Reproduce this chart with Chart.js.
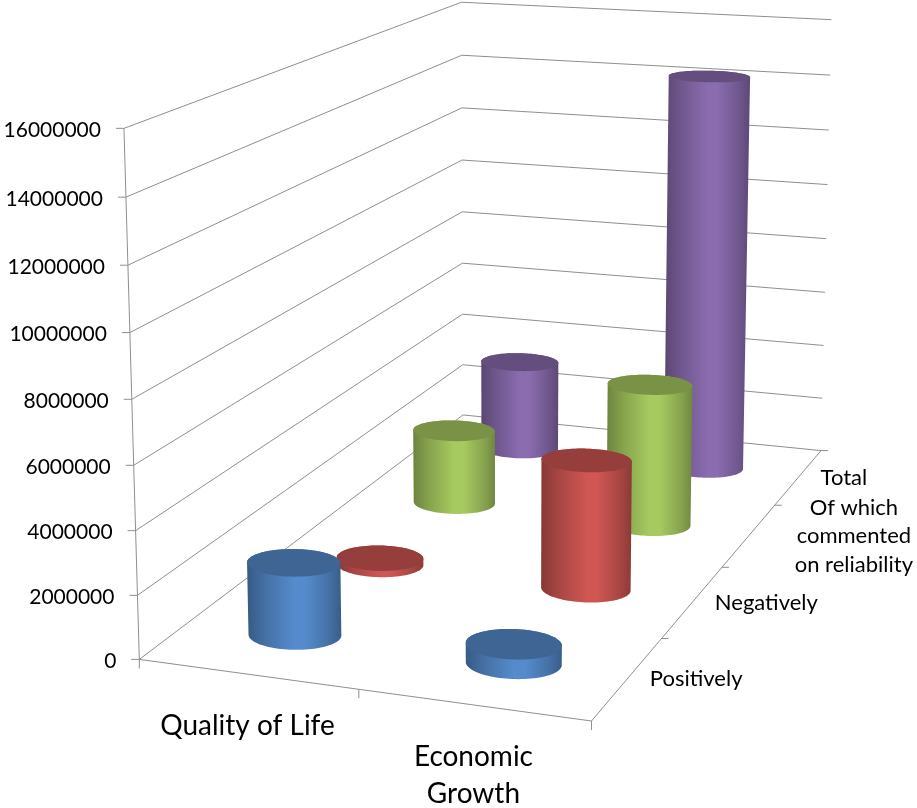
<!DOCTYPE html>
<html>
<head>
<meta charset="utf-8">
<script src="https://cdn.jsdelivr.net/npm/chart.js@4.4.1/dist/chart.umd.min.js"></script>
<style>
  html, body { margin: 0; padding: 0; background: #ffffff; }
  #wrap { width: 917px; height: 808px; position: relative; }
</style>
</head>
<body>
<div id="wrap"><canvas id="chart"></canvas></div>
<script>
// ---- data ----
const categories = ['Quality of Life', ['Economic', 'Growth']];
const seriesNames = ['Positively', 'Negatively', ['Of which', 'commented', 'on reliability'], 'Total'];
const positively = [2300000, 600000];
const negatively = [210000, 4250000];
const commentedOnReliability = [2600000, 4900000];
const total = [3300000, 14300000];
const valueTicks = [0, 2000000, 4000000, 6000000, 8000000, 10000000, 12000000, 14000000, 16000000];

// ---- style ----
const seriesColors = ['#4F81BD', '#C0504D', '#9BBB59', '#8064A2'];
const lineColor = '#8e8e8e';
const FONT = 'Lato, "Open Sans", sans-serif';

// Screen placement of the 3D plot box: world (across, up, into) -> canvas px.
// across = category direction, up = value direction, into = series depth.
const boxAnchors = [
  [[0, 0, 0], [140, 659]],
  [[1, 0, 0], [590, 722]],
  [[1, 0, 1], [823, 451]],
  [[0, 0, 1], [462, 415]],
  [[0, 1, 0], [124, 127]],
  [[0, 1, 1], [462, 2]],
  [[1, 1, 1], [832, 20]],
  [[0, 0.5, 0], [132, 401]],
  [[0, 0.5, 1], [462, 212]],
  [[1, 0.5, 1], [824, 239]],
  [[1, 0, 0.25], [662, 638]],
  [[1, 0, 0.5], [722, 567]],
  [[1, 0, 0.75], [775, 504]]
];
const RADIUS_ACROSS = 0.102;  // cylinder radius along the category direction
const RADIUS_INTO = 0.045;    // cylinder radius along the series direction

function solveLinear(A, b) {
  const n = b.length;
  const M = A.map((row, i) => row.concat([b[i]]));
  for (let c = 0; c < n; c++) {
    let piv = c;
    for (let r = c + 1; r < n; r++) if (Math.abs(M[r][c]) > Math.abs(M[piv][c])) piv = r;
    [M[c], M[piv]] = [M[piv], M[c]];
    for (let r = c + 1; r < n; r++) {
      const f = M[r][c] / M[c][c];
      for (let k = c; k <= n; k++) M[r][k] -= f * M[c][k];
    }
  }
  const x = new Array(n).fill(0);
  for (let r = n - 1; r >= 0; r--) {
    let s = M[r][n];
    for (let k = r + 1; k < n; k++) s -= M[r][k] * x[k];
    x[r] = s / M[r][r];
  }
  return x;
}

// Least-squares perspective camera through the box anchors.
function makeProjection(anchors) {
  const S = 1000;
  const N = Array.from({ length: 11 }, () => new Array(11).fill(0));
  const v = new Array(11).fill(0);
  const add = (row, rhs) => {
    for (let i = 0; i < 11; i++) {
      v[i] += row[i] * rhs;
      for (let j = 0; j < 11; j++) N[i][j] += row[i] * row[j];
    }
  };
  anchors.forEach(([[X, Y, Z], [px, py]]) => {
    const x = px / S, y = py / S;
    add([X, Y, Z, 1, 0, 0, 0, 0, -x * X, -x * Y, -x * Z], x);
    add([0, 0, 0, 0, X, Y, Z, 1, -y * X, -y * Y, -y * Z], y);
  });
  const p = solveLinear(N, v);
  return (a, h, d) => {
    const den = p[8] * a + p[9] * h + p[10] * d + 1;
    return {
      x: S * (p[0] * a + p[1] * h + p[2] * d + p[3]) / den,
      y: S * (p[4] * a + p[5] * h + p[6] * d + p[7]) / den,
      depth: den
    };
  };
}

function convexHull(pts) {
  const P = pts.slice().sort((a, b) => a.x - b.x || a.y - b.y);
  const cross = (o, a, b) => (a.x - o.x) * (b.y - o.y) - (a.y - o.y) * (b.x - o.x);
  const lower = [], upper = [];
  for (const p of P) {
    while (lower.length >= 2 && cross(lower[lower.length - 2], lower[lower.length - 1], p) <= 0) lower.pop();
    lower.push(p);
  }
  for (let i = P.length - 1; i >= 0; i--) {
    const p = P[i];
    while (upper.length >= 2 && cross(upper[upper.length - 2], upper[upper.length - 1], p) <= 0) upper.pop();
    upper.push(p);
  }
  upper.pop(); lower.pop();
  return lower.concat(upper);
}

function shade(hex, f) {
  const n = parseInt(hex.slice(1), 16);
  const c = [(n >> 16) & 255, (n >> 8) & 255, n & 255].map(v => Math.max(0, Math.min(255, Math.round(v * f))));
  return `rgb(${c[0]},${c[1]},${c[2]})`;
}

function polygon(ctx, pts) {
  ctx.beginPath();
  pts.forEach((p, i) => (i ? ctx.lineTo(p.x, p.y) : ctx.moveTo(p.x, p.y)));
  ctx.closePath();
}

function line(ctx, a, b) {
  ctx.beginPath();
  ctx.moveTo(a.x, a.y);
  ctx.lineTo(b.x, b.y);
  ctx.stroke();
}

function drawCylinder(ctx, proj, a, d, h, color) {
  const N = 96, bottom = [], top = [];
  for (let k = 0; k < N; k++) {
    const t = 2 * Math.PI * k / N;
    const aa = a + RADIUS_ACROSS * Math.cos(t), dd = d + RADIUS_INTO * Math.sin(t);
    bottom.push(proj(aa, 0, dd));
    top.push(proj(aa, h, dd));
  }
  const hull = convexHull(bottom.concat(top));
  let minX = Infinity, maxX = -Infinity;
  hull.forEach(p => { minX = Math.min(minX, p.x); maxX = Math.max(maxX, p.x); });
  const g = ctx.createLinearGradient(minX, 0, maxX, 0);
  g.addColorStop(0, shade(color, 0.70));
  g.addColorStop(0.18, shade(color, 0.86));
  g.addColorStop(0.5, shade(color, 1.08));
  g.addColorStop(0.62, shade(color, 1.08));
  g.addColorStop(0.88, shade(color, 0.86));
  g.addColorStop(1, shade(color, 0.72));
  ctx.fillStyle = g;
  polygon(ctx, hull);
  ctx.fill();
  ctx.fillStyle = shade(color, 0.78);
  polygon(ctx, top);
  ctx.fill();
}

const cylinders3d = {
  id: 'cylinders3d',
  beforeDatasetsDraw(chart) {
    const ctx = chart.ctx;
    const xs = chart.scales.x, ys = chart.scales.y, zs = chart.scales.z;
    const proj = makeProjection(boxAnchors);
    const across = i => (xs.getPixelForValue(i) - xs.left) / xs.width;
    const into = j => (zs.getPixelForValue(j) - zs.left) / zs.width;
    const up = v => (ys.bottom - ys.getPixelForValue(v)) / (ys.bottom - ys.top);

    ctx.save();
    ctx.lineWidth = 1;
    ctx.strokeStyle = lineColor;

    // walls: gridlines on the left and back walls
    ys.ticks.forEach(t => {
      const h = up(t.value);
      ctx.beginPath();
      const p0 = proj(0, h, 0), p1 = proj(0, h, 1), p2 = proj(1, h, 1);
      ctx.moveTo(p0.x, p0.y); ctx.lineTo(p1.x, p1.y); ctx.lineTo(p2.x, p2.y);
      ctx.stroke();
    });

    // value axis with ticks and labels
    line(ctx, proj(0, 0, 0), proj(0, 1, 0));
    ctx.fillStyle = '#000';
    ctx.font = `21px ${FONT}`;
    ctx.textAlign = 'right';
    ctx.textBaseline = 'middle';
    ys.ticks.forEach(t => {
      const p = proj(0, up(t.value), 0);
      line(ctx, { x: p.x - 8, y: p.y }, p);
      ctx.fillText(t.label, p.x - 23, p.y + 2);
    });

    // floor front edge (categories) and right edge (series)
    line(ctx, proj(0, 0, 0), proj(1, 0, 0));
    line(ctx, proj(1, 0, 0), proj(1, 0, 1));
    [0, 0.5, 1].forEach(a => {
      const p = proj(a, 0, 0);
      line(ctx, p, { x: p.x, y: p.y + 9 });
    });
    [0.25, 0.5, 0.75, 1].forEach(d => {
      const p = proj(1, 0, d);
      line(ctx, p, { x: p.x + 7, y: p.y });
    });

    // category labels
    ctx.textAlign = 'center';
    ctx.font = `28px ${FONT}`;
    categories.forEach((c, i) => {
      const p = proj(across(i), 0, 0);
      const lines = Array.isArray(c) ? c : [c];
      lines.forEach((s, k) => ctx.fillText(s, p.x, p.y + 52 + k * 37));
    });

    // series labels along the depth edge
    ctx.font = `22px ${FONT}`;
    seriesNames.forEach((n, j) => {
      const p = proj(1, 0, into(j));
      const lines = Array.isArray(n) ? n : [n];
      const w = Math.max(...lines.map(s => ctx.measureText(s).width));
      let left = p.x + 22;
      if (lines.length > 1) left = chart.width - 4 - w;
      const lh = 28.5;
      lines.forEach((s, k) => {
        ctx.textAlign = 'center';
        ctx.fillText(s, left + w / 2, p.y + 1 + (k - (lines.length - 1) / 2) * lh);
      });
    });

    // cylinders, far to near
    const items = [];
    chart.data.datasets.forEach((ds, j) => {
      ds.data.forEach((v, i) => {
        const a = across(i), d = into(j);
        items.push({ a, d, h: up(v), color: ds.backgroundColor, depth: proj(a, 0, d).depth });
      });
    });
    items.sort((p, q) => q.depth - p.depth);
    items.forEach(it => drawCylinder(ctx, proj, it.a, it.d, it.h, it.color));

    ctx.restore();
    return false;
  }
};

const seriesValues = [positively, negatively, commentedOnReliability, total];
new Chart(document.getElementById('chart'), {
  type: 'bar',
  data: {
    labels: categories,
    datasets: seriesValues.map((vals, j) => ({
      label: Array.isArray(seriesNames[j]) ? seriesNames[j].join(' ') : seriesNames[j],
      data: vals,
      backgroundColor: seriesColors[j]
    }))
  },
  options: {
    responsive: true,
    maintainAspectRatio: false,
    animation: false,
    events: [],
    layout: { padding: 0 },
    plugins: { legend: { display: false }, tooltip: { enabled: false } },
    scales: {
      x: { type: 'category', offset: true, display: false },
      y: {
        type: 'linear', min: 0, max: 16000000, display: false,
        afterBuildTicks: s => { s.ticks = valueTicks.map(v => ({ value: v })); },
        ticks: { callback: v => String(v) }
      },
      z: { type: 'category', axis: 'x', labels: seriesNames, offset: true, display: false }
    }
  },
  plugins: [cylinders3d]
});
</script>
</body>
</html>
